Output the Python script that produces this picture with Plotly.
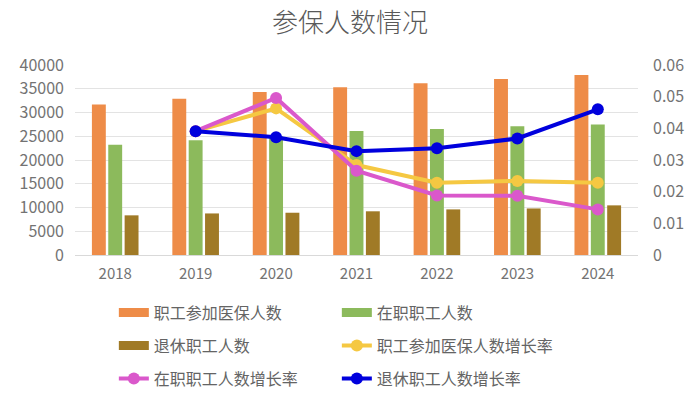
import plotly.graph_objects as go

years = ["2018", "2019", "2020", "2021", "2022", "2023", "2024"]
insured = [31700, 32900, 34300, 35300, 36150, 37050, 37900]
active = [23200, 24150, 25000, 26100, 26550, 27100, 27450]
retired = [8350, 8750, 8900, 9200, 9600, 9800, 10450]

years_g = years[1:]
insured_g = [0.0391, 0.0463, 0.0284, 0.0228, 0.0234, 0.0228]
active_g = [0.0391, 0.0496, 0.0266, 0.0188, 0.0187, 0.0144]
retired_g = [0.0391, 0.0372, 0.0328, 0.0337, 0.0368, 0.0460]

names = ["职工参加医保人数", "在职职工人数", "退休职工人数",
         "职工参加医保人数增长率", "在职职工人数增长率", "退休职工人数增长率"]

FONT = "Noto Sans CJK SC"
GRAY = "#595959"
TICK = "#737373"
LEG = "#646464"

fig = go.Figure()
bar_colors = ["#EE8C48", "#8CBA5C", "#A07A26"]
bar_legends = ["legend", "legend", "legend2"]
for i, (vals, col) in enumerate(zip([insured, active, retired], bar_colors)):
    fig.add_trace(go.Bar(x=years, y=vals, name=names[i], marker_color=col,
                         marker_line_width=0, yaxis="y", showlegend=False))

line_colors = ["#F5C842", "#DA58CB", "#0000DD"]
for j, (vals, col) in enumerate(zip([insured_g, active_g, retired_g], line_colors)):
    fig.add_trace(go.Scatter(x=years_g, y=vals, name=names[3 + j], mode="lines+markers",
                             line=dict(color=col, width=4), marker=dict(color=col, size=12),
                             yaxis="y2", legend=["legend2", "legend3", "legend3"][j],
                             legendrank=4 + j))

# legend-only entries for the bars (wide rectangle swatches)
for i, col in enumerate(bar_colors):
    fig.add_trace(go.Scatter(x=[None], y=[None], name=names[i], mode="lines",
                             line=dict(color=col, width=9), yaxis="y",
                             legend=bar_legends[i], legendrank=i + 1))

leg_common = dict(orientation="h", xanchor="left", x=0.069, yanchor="top", yref="container",
                  font=dict(family=FONT, size=16, color=LEG),
                  entrywidth=178, entrywidthmode="pixels", bgcolor="rgba(0,0,0,0)",
                  traceorder="normal")

fig.update_layout(
    width=700, height=394,
    paper_bgcolor="white", plot_bgcolor="white",
    margin=dict(l=75, r=62, t=65, b=139),
    title=dict(text="参保人数情况", x=0.5, xanchor="center", y=0.943, yanchor="middle",
               font=dict(family=FONT, size=26, color=GRAY, weight=300)),
    font=dict(family=FONT, color=GRAY),
    barmode="group", bargap=0.39, bargroupgap=0.15,
    xaxis=dict(type="category", showline=True, linecolor="#D9D9D9", linewidth=1,
               tickfont=dict(size=15, color=TICK), ticks="", ticklabelstandoff=5),
    yaxis=dict(range=[0, 40000], dtick=5000, tickformat="d", gridcolor="#E3E3E3",
               zeroline=False, tickfont=dict(size=16, color=TICK), ticklabelstandoff=10),
    yaxis2=dict(range=[0, 0.06], dtick=0.01, overlaying="y", side="right",
                showgrid=False, zeroline=False, tickfont=dict(size=16, color=TICK),
                ticklabelstandoff=14),
    legend=dict(y=0.250, **leg_common),
    legend2=dict(y=0.166, **leg_common),
    legend3=dict(y=0.082, **leg_common),
)

fig.write_html("out.html", post_script="document.body.style.margin='0';",
               config={"displayModeBar": False})
